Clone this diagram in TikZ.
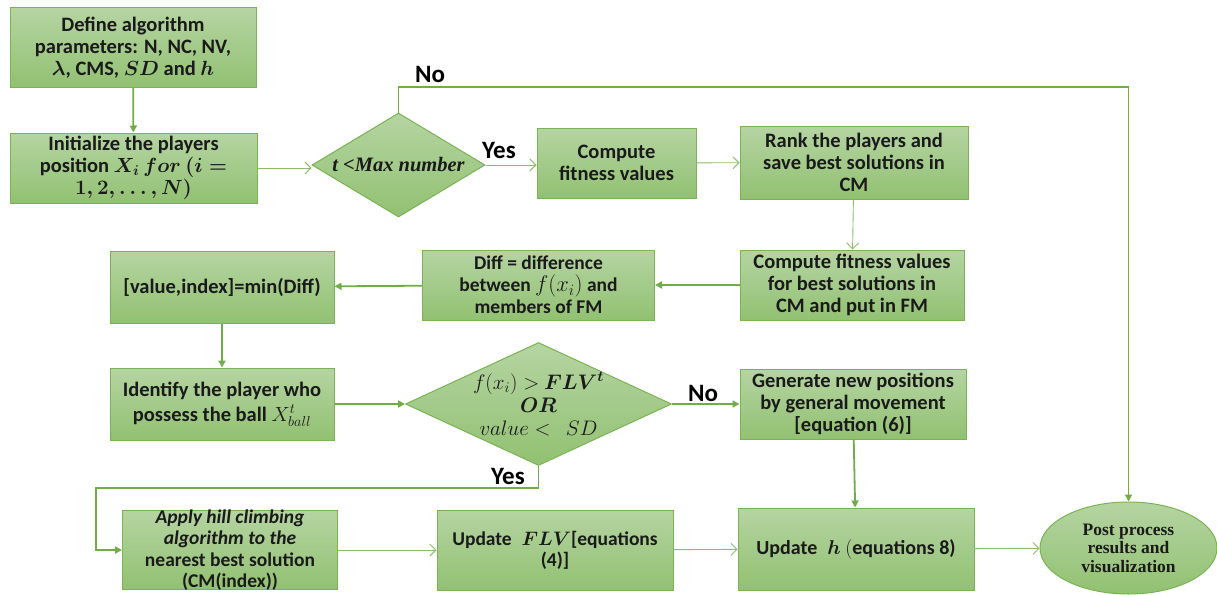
\RequirePackage{fix-cm}
\documentclass[tikz,border=0pt]{standalone}
\usepackage{fontspec}
\setmainfont{Carlito}
\newfontfamily\tnr{Liberation Serif}
\usetikzlibrary{arrows.meta,shapes.geometric}
\definecolor{gborder}{RGB}{120,180,82}
\definecolor{gtop}{RGB}{181,212,162}
\definecolor{gbot}{RGB}{146,193,114}
\definecolor{gline}{RGB}{112,173,71}
\definecolor{gthin}{RGB}{140,190,105}
\definecolor{txt}{RGB}{26,26,26}
\begin{document}
\begin{tikzpicture}[x=1pt,y=-1pt,
  box/.style={draw=gborder, line width=1pt, top color=gtop, bottom color=gbot,
    align=center, font=\fontsize{20.5}{22}\selectfont\bfseries, text=txt, inner xsep=1pt, inner ysep=0pt},
  dia/.style={box, diamond, inner sep=0pt},
  oval/.style={box, ellipse, font=\tnr\fontsize{17.5}{18.5}\selectfont\bfseries},
  dtext/.style={align=center, text=txt, inner sep=0pt},
  thickarr/.style={draw=gline, line width=1.8pt, -{Triangle[length=7pt,width=7pt]}},
  thinarr/.style={draw=gthin, line width=0.9pt, -{Straight Barb[length=6pt,width=12pt]}},
  lab/.style={font=\fontsize{25}{26}\selectfont\bfseries, text=black, inner sep=0pt}
]
\useasboundingbox (0,0) rectangle (1217,594);

\node[box, minimum width=246, minimum height=79] (def) at (133,47.5)
  {Define algorithm\\ parameters: N, NC, NV,\\ {\boldmath$\lambda$}, CMS, {\boldmath$SD$} and {\boldmath$h$}};
\node[box, minimum width=247, minimum height=70] (init) at (133.5,168)
  {Initialize the players\\ position {\boldmath$X_i\, for\ (i =$}\\ {\boldmath$1, 2, \dots, N)$}};
\node[dia, minimum width=173, minimum height=104,
  label={[dtext, font=\tnr\fontsize{20.5}{22}\selectfont\bfseries\itshape]center:{t <Max number}}] (d1) at (398.5,165) {};
\node[box, minimum width=159, minimum height=70] (cfit) at (616.5,163)
  {Compute\\ fitness values};
\node[box, minimum width=228, minimum height=73] (rank) at (854,162.5)
  {Rank the players and\\ save best solutions in\\ CM};
\node[box, minimum width=224, minimum height=70] (cfm) at (852,285)
  {Compute fitness values\\ for best solutions in\\ CM and put in FM};
\node[box, minimum width=232, minimum height=70, font=\fontsize{19.5}{22}\selectfont\bfseries] (diff) at (538.5,285)
  {Diff = difference\\ between {\fontsize{22.5}{22}\selectfont$f(x_i)$} and\\ members of FM};
\node[box, minimum width=224, minimum height=72] (val) at (222,287)
  {{[}value,index{]}=min(Diff)};
\node[box, minimum width=224, minimum height=72, font=\fontsize{20.5}{25}\selectfont\bfseries] (ident) at (222,404)
  {Identify the player who\\ possess the ball $X_{ball}^t$};
\node[dia, minimum width=266, minimum height=123,
  label={[dtext, font=\fontsize{21}{23}\selectfont\bfseries]center:{$f(x_i) >$ {\boldmath$FLV^t$}\\ {\boldmath$OR$}\\ $value <\ \ SD$}}] (d2) at (538.5,404) {};
\node[box, minimum width=226, minimum height=70] (gen) at (853,404)
  {Generate new positions\\ by general movement\\ {[}equation (6){]}};
\node[box, minimum width=215, minimum height=79, inner ysep=-6pt, font=\fontsize{19.5}{21.5}\selectfont\bfseries] (hill) at (230,550)
  {\itshape Apply hill climbing\\ \itshape algorithm to the\\ nearest best solution\\ (CM(index))};
\node[box, minimum width=236, minimum height=80, font=\fontsize{19.5}{21}\selectfont\bfseries] (uflv) at (555,550)
  {Update\; {\boldmath$FLV$}{[}equations\\ (4){]}};
\node[box, minimum width=236, minimum height=82, font=\fontsize{20}{22}\selectfont\bfseries] (uh) at (856,549)
  {Update\; {\boldmath$h$} $($equations 8)};
\node[oval, minimum width=177, minimum height=92, inner sep=0pt] (post) at (1128.5,548)
  {Post process\\ results and\\ visualization};

\coordinate (notop) at (398.5,87);
\coordinate (yesc) at (96,488);

\draw[thickarr] (def) -- (init);
\draw[thinarr] (init.east) -- (d1.west |- init.east);
\draw[thickarr] (d1.north) -- (notop) -| (post.north);
\draw[thinarr] (d1.east) -- (cfit.west |- d1.east);
\draw[thinarr] (cfit) -- (rank);
\draw[thinarr] (rank) -- (cfm);
\draw[thickarr] (cfm) -- (diff);
\draw[thickarr] (diff) -- (val);
\draw[thickarr] (val) -- (ident);
\draw[thickarr] (ident) -- (d2);
\draw[thickarr] (d2) -- (gen);
\draw[thickarr] (d2.south) |- (yesc) |- (hill.west);
\draw[thickarr] (gen) -- (uh);
\draw[thinarr] (hill) -- (uflv);
\draw[thinarr] (uflv) -- (uh);
\draw[thinarr] (uh) -- (post);

\node[lab] (lno1) at (430,74) {No};
\node[lab] (lyes1) at (499,150) {Yes};
\node[lab] (lno2) at (703,393) {No};
\node[lab] (lyes2) at (508,476) {Yes};
\end{tikzpicture}
\end{document}
